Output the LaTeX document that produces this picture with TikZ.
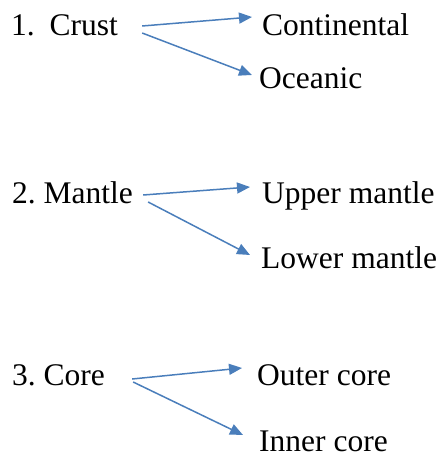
\documentclass[tikz,border=0pt]{standalone}
\usepackage{fontspec}
\setmainfont{Liberation Serif}
\usetikzlibrary{arrows.meta}
\definecolor{arrowblue}{HTML}{4A7EBB}
\tikzset{
  lbl/.style={inner sep=0pt, anchor=base west, font=\fontsize{31.5}{36}\selectfont\frenchspacing},
  conn/.style={draw=arrowblue, line width=1.5pt, -{Triangle[length=13pt,width=11pt]}, arrowblue}
}
\begin{document}
\begin{tikzpicture}[x=1pt,y=-1pt]
\useasboundingbox (0,0) rectangle (442,457);
% row 1
\node[lbl] (crust) at (11,36) {1.\hspace{7pt} Crust};
\node[lbl] (cont) at (262,36) {Continental};
\node[lbl] (ocean) at (259,89) {Oceanic};
% row 2
\node[lbl] (mantle) at (12,203) {2. Mantle};
\node[lbl] (upper) at (262,203) {Upper mantle};
\node[lbl] (lower) at (261,268) {Lower mantle};
% row 3
\node[lbl] (core) at (12,385) {3. Core};
\node[lbl] (outer) at (257,385) {Outer core};
\node[lbl] (inner) at (259,451) {Inner core};
% arrows
\draw[conn] ([shift={(24,-10)}]crust.base east) -- ([shift={(-10,-19)}]cont.base west);
\draw[conn] ([shift={(24,-3)}]crust.base east) -- ([shift={(-7,-14)}]ocean.base west);
\draw[conn] ([shift={(10,-8)}]mantle.base east) -- ([shift={(-12,-16)}]upper.base west);
\draw[conn] ([shift={(15,-1)}]mantle.base east) -- ([shift={(-11,-13)}]lower.base west);
\draw[conn] ([shift={(27,-6)}]core.base east) -- ([shift={(-15,-17)}]outer.base west);
\draw[conn] ([shift={(28,-3)}]core.base east) -- ([shift={(-16,-16)}]inner.base west);
\end{tikzpicture}
\end{document}
